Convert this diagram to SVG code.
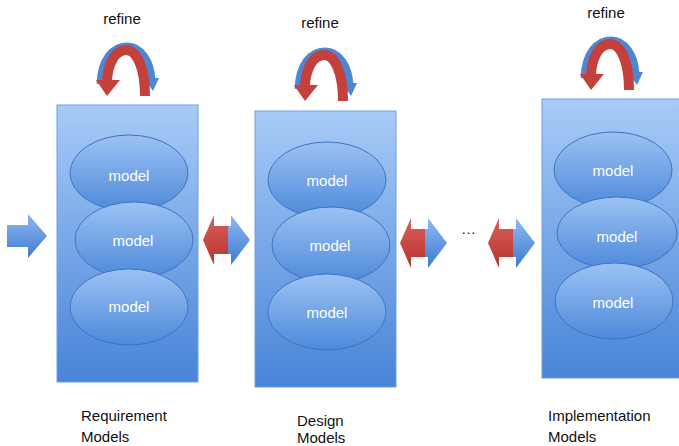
<svg xmlns="http://www.w3.org/2000/svg" width="679" height="446" viewBox="0 0 679 446">
  <defs>
    <linearGradient id="boxFill" x1="0" y1="0" x2="0" y2="1">
      <stop offset="0" stop-color="#a8cbf7"/>
      <stop offset="1" stop-color="#4884d8"/>
    </linearGradient>
    <linearGradient id="ovalFill" x1="0" y1="0" x2="0" y2="1">
      <stop offset="0" stop-color="#9cc2f3"/>
      <stop offset="1" stop-color="#4d89da"/>
    </linearGradient>
    <linearGradient id="blueArrow" x1="0" y1="0" x2="0" y2="1">
      <stop offset="0" stop-color="#8db9f0"/>
      <stop offset="1" stop-color="#3f7bd2"/>
    </linearGradient>
    <linearGradient id="redArrow" x1="0" y1="0" x2="0" y2="1">
      <stop offset="0" stop-color="#d9605a"/>
      <stop offset="1" stop-color="#b8322e"/>
    </linearGradient>
    <!-- refine loop: blue arc behind, red arc in front -->
    <g id="refineLoop">
      <path d="M-24 34 C-23 10 -12 -3 2 -3 C16 -3 25 12 26 30" fill="none" stroke="#4f86d4" stroke-width="9"/>
      <polygon points="19,28 34,28 28,41" fill="#4f86d4"/>
      <path d="M20 46 C20 18 12 0 1 0 C-10 0 -17 14 -18 30" fill="none" stroke="#c4403a" stroke-width="10"/>
      <polygon points="-29,30 -5,30 -18,46" fill="#c4403a"/>
    </g>
    <!-- double-headed arrow: red left half, blue right half -->
    <g id="twoWay">
      <polygon points="0,0 11,-25 11,-14 26,-14 26,14 11,14 11,25" fill="url(#redArrow)"/>
      <polygon points="25,-14 28,-14 28,-25 47,0 28,25 28,14 25,14" fill="url(#blueArrow)"/>
    </g>
    <style>
      .box { fill: url(#boxFill); stroke: #6f9fdf; stroke-width: 1; }
      .oval { fill: url(#ovalFill); stroke: #3d74c2; stroke-width: 1; }
      .lbl { font-family: "Liberation Sans", Arial, sans-serif; font-size: 15px; fill: #111; }
      .mdl { font-family: "Liberation Sans", Arial, sans-serif; font-size: 15px; fill: #ffffff; text-anchor: middle; }
    </style>
  </defs>

  <rect width="679" height="446" fill="#ffffff"/>

  <g id="connectors">
    <polygon id="entry" points="7,225 28,225 28,214 47,236 28,258 28,247 7,247" fill="url(#blueArrow)"/>
    <use href="#twoWay" x="203" y="240"/>
    <use href="#twoWay" x="400" y="243"/>
    <use href="#twoWay" x="488" y="243"/>
    <text class="lbl" x="461" y="234" font-size="13">…</text>
    <use href="#refineLoop" x="125" y="50"/>
    <use href="#refineLoop" x="323" y="55"/>
    <use href="#refineLoop" x="609" y="44"/>
  </g>

  <g id="requirement">
    <rect class="box" x="57" y="105" width="141" height="277"/>
    <ellipse class="oval" cx="129" cy="173" rx="59" ry="38"/>
    <ellipse class="oval" cx="134" cy="240" rx="59" ry="38"/>
    <ellipse class="oval" cx="129" cy="307" rx="59" ry="38"/>
    <text class="mdl" x="129" y="181">model</text>
    <text class="mdl" x="133" y="246">model</text>
    <text class="mdl" x="129" y="312">model</text>
    <text class="lbl" x="122" y="24" text-anchor="middle">refine</text>
    <text class="lbl" x="81" y="421">Requirement</text>
    <text class="lbl" x="81" y="442">Models</text>
  </g>

  <g id="design">
    <rect class="box" x="255" y="111" width="141" height="276"/>
    <ellipse class="oval" cx="327" cy="180" rx="59" ry="38"/>
    <ellipse class="oval" cx="331" cy="245" rx="59" ry="38"/>
    <ellipse class="oval" cx="327" cy="312" rx="59" ry="38"/>
    <text class="mdl" x="327" y="186">model</text>
    <text class="mdl" x="330" y="251">model</text>
    <text class="mdl" x="327" y="318">model</text>
    <text class="lbl" x="320" y="28" text-anchor="middle">refine</text>
    <text class="lbl" x="297" y="426">Design</text>
    <text class="lbl" x="297" y="443">Models</text>
  </g>

  <g id="implementation">
    <rect class="box" x="542" y="99" width="140" height="279"/>
    <ellipse class="oval" cx="613" cy="170" rx="59" ry="38"/>
    <ellipse class="oval" cx="617" cy="233" rx="60" ry="36"/>
    <ellipse class="oval" cx="614" cy="301" rx="59" ry="38"/>
    <text class="mdl" x="613" y="176">model</text>
    <text class="mdl" x="617" y="242">model</text>
    <text class="mdl" x="613" y="308">model</text>
    <text class="lbl" x="606" y="18" text-anchor="middle">refine</text>
    <text class="lbl" x="548" y="421">Implementation</text>
    <text class="lbl" x="548" y="442">Models</text>
  </g>
</svg>
